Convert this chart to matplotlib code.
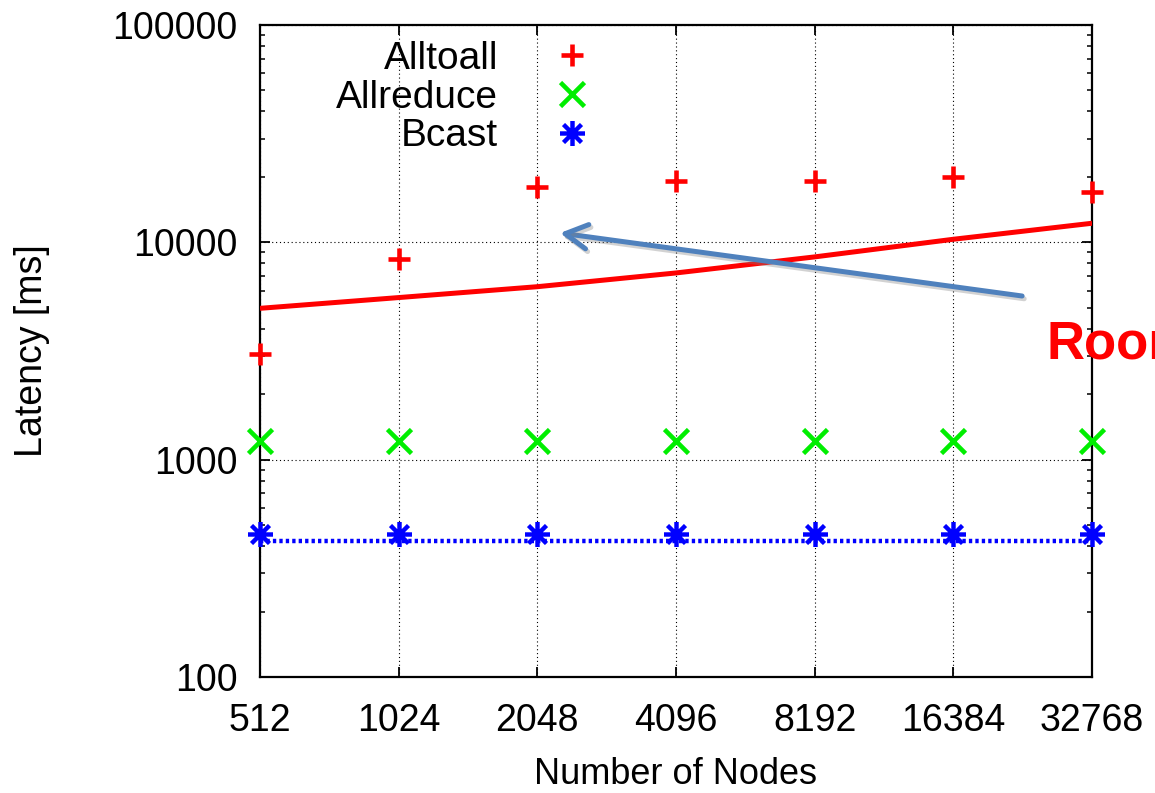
import matplotlib
matplotlib.use("Agg")
import matplotlib.pyplot as plt
import matplotlib.patheffects as pe
from matplotlib.path import Path
from matplotlib.ticker import FixedLocator, LogLocator, NullFormatter, NullLocator

# ---- data ----
nodes = [512, 1024, 2048, 4096, 8192, 16384, 32768]
node_labels = ["512", "1024", "2048", "4096", "8192", "16384", "32768"]
alltoall = [3050, 8400, 18000, 19100, 19100, 19900, 17100]
allreduce = [1220, 1220, 1220, 1220, 1220, 1220, 1220]
bcast = [455, 455, 455, 455, 455, 455, 455]
alltoall_model = [4970, 5570, 6250, 7230, 8570, 10330, 12240]
bcast_model = [424, 424, 424, 424, 424, 424, 424]
ytick_vals = [100, 1000, 10000, 100000]
ytick_labels = ["100", "1000", "10000", "100000"]

plt.rcParams['font.family'] = ['Liberation Sans', 'DejaVu Sans']

W, H = 1155, 793
fig = plt.figure(figsize=(W / 100, H / 100), dpi=100)
left, right, top, bottom = 260, 1092, 25, 677
ax = fig.add_axes([left / W, 1 - bottom / H, (right - left) / W, (bottom - top) / H])

# asterisk marker (plus + cross)
ast = Path([(0, -1), (0, 1), (-1, 0), (1, 0),
            (-0.72, -0.72), (0.72, 0.72), (-0.72, 0.72), (0.72, -0.72)],
           [Path.MOVETO, Path.LINETO] * 4)

RED, GREEN, BLUE = '#ff0000', '#00ee00', '#0000ff'

ax.plot(nodes, alltoall_model, color=RED, lw=3.6, solid_capstyle='butt', zorder=3)
ax.plot(nodes, bcast_model, color=BLUE, lw=3.2, linestyle=(0, (0.75, 0.7)),
        dash_capstyle='butt', zorder=3)

ax.plot(nodes, alltoall, linestyle='none', marker='+', ms=16.5, mew=3.3,
        color=RED, clip_on=False, zorder=4, label='Alltoall')
ax.plot(nodes, allreduce, linestyle='none', marker='x', ms=17, mew=3.3,
        color=GREEN, clip_on=False, zorder=4, label='Allreduce')
ax.plot(nodes, bcast, linestyle='none', marker=ast, ms=18, mew=3.2,
        color=BLUE, clip_on=False, zorder=4, label='Bcast')

ax.set_xscale('log', base=2)
ax.set_yscale('log')
ax.set_xlim(512, 32768)
ax.set_ylim(100, 100000)

ax.xaxis.set_major_locator(FixedLocator(nodes))
ax.set_xticklabels(node_labels)
ax.xaxis.set_minor_locator(NullLocator())
ax.yaxis.set_major_locator(FixedLocator(ytick_vals))
ax.set_yticklabels(ytick_labels)
ax.yaxis.set_minor_locator(LogLocator(base=10, subs=[2, 3, 4, 5, 6, 7, 8, 9]))
ax.yaxis.set_minor_formatter(NullFormatter())

ax.tick_params(axis='both', which='major', direction='in', length=7, width=1.3,
               labelsize=27, top=True, right=True)
ax.tick_params(axis='y', which='minor', direction='in', length=3.6, width=1.1,
               left=True, right=True)
ax.tick_params(axis='x', which='major', pad=19)
ax.tick_params(axis='y', which='major', pad=16)

for s in ax.spines.values():
    s.set_linewidth(1.6)
    s.set_color('black')

ax.grid(True, which='major', color='black', linestyle=(0, (1, 2.5)), linewidth=0.8)

ax.set_xlabel('Number of Nodes', fontsize=26, labelpad=13)
ax.set_ylabel('Latency [ms]', fontsize=27, labelpad=45)

leg = ax.legend(loc='upper right', bbox_to_anchor=(603 / W, 1 - 41 / H),
                bbox_transform=fig.transFigure, frameon=False, markerfirst=False,
                fontsize=28, handlelength=1.6, handletextpad=1.1,
                labelspacing=0.07, borderpad=0, borderaxespad=0)

# annotation arrow
ann = ax.annotate('', xy=(0.3606, (bottom - 233) / (bottom - top)),
                  xytext=(0.916, (bottom - 296) / (bottom - top)),
                  xycoords='axes fraction', textcoords='axes fraction',
                  arrowprops=dict(arrowstyle='->,head_length=0.4,head_width=0.22',
                                  color='#4f81bd', lw=3.6, mutation_scale=40,
                                  shrinkA=0, shrinkB=0))
ann.arrow_patch.set_path_effects([
    pe.SimpleLineShadow(offset=(1.5, -2), shadow_color='gray', alpha=0.35),
    pe.Normal()])

fig.text(1046 / W, 1 - 358 / H, 'Room', color=RED, fontsize=38,
         fontweight='bold', ha='left', va='baseline')

fig.savefig('out.png', dpi=100)
